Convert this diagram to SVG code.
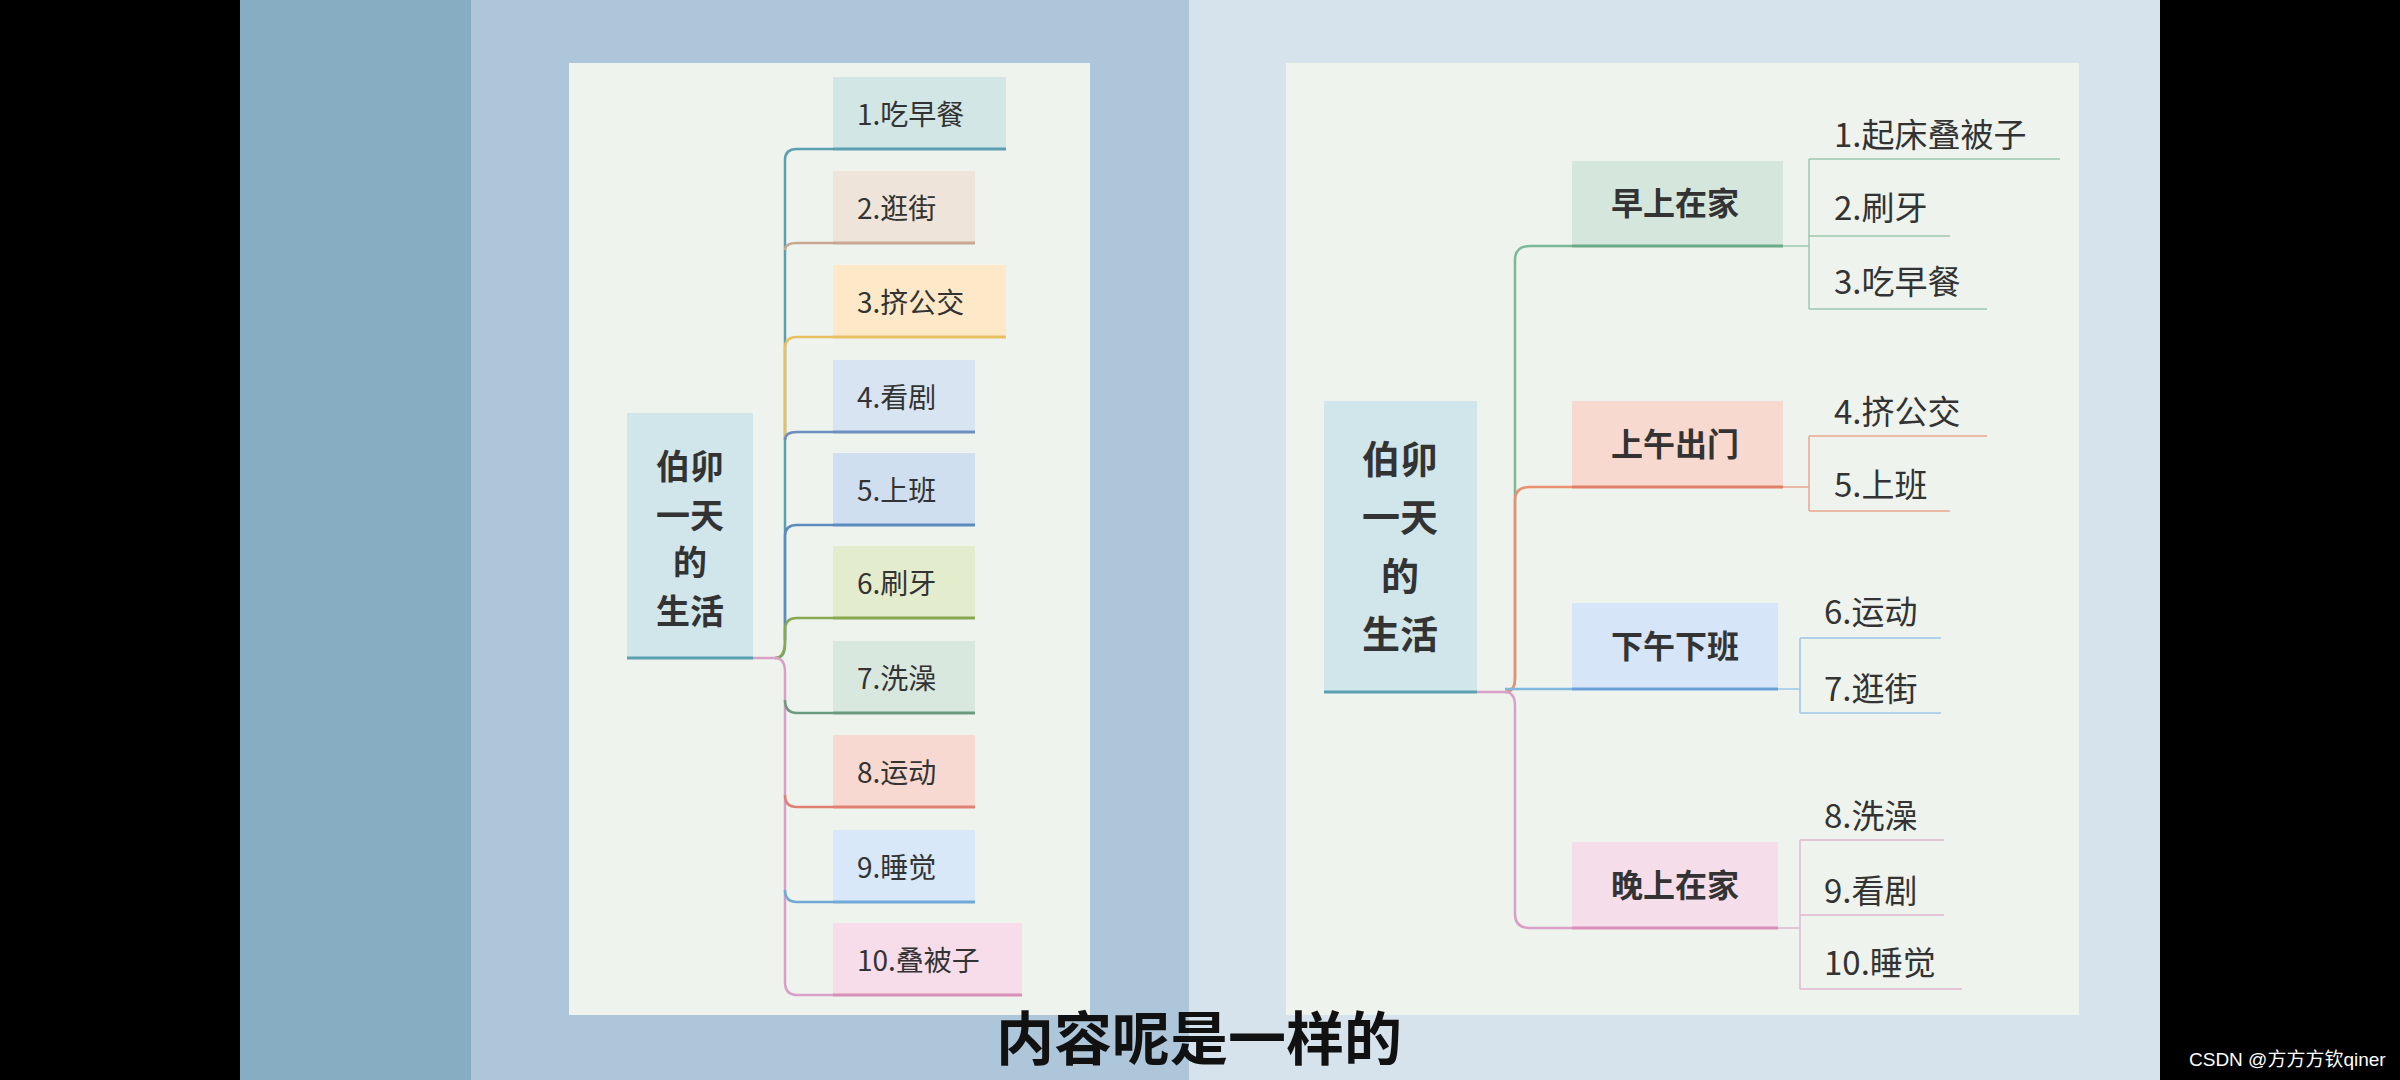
<svg xmlns="http://www.w3.org/2000/svg" width="2400" height="1080" viewBox="0 0 2400 1080">
<style>
.t{font-family:"Noto Sans CJK SC","Liberation Sans",sans-serif;fill:#333}
.c{font-size:28px}
.r{font-size:34px;font-weight:bold;text-anchor:middle}
.r2{font-size:38px;font-weight:bold;text-anchor:middle}
.k{font-size:32px;font-weight:bold;text-anchor:middle}
.l{font-size:33px}
.ln{fill:none;stroke-width:2.5}
</style>
<rect width="2400" height="1080" fill="#000"/>
<rect x="240" y="0" width="231" height="1080" fill="#87adc3"/>
<rect x="471" y="0" width="718" height="1080" fill="#adc6da"/>
<rect x="1189" y="0" width="971" height="1080" fill="#d6e3ec"/>
<rect x="569" y="63" width="521" height="952" fill="#eef3ee"/>
<rect x="1286" y="63" width="793" height="952" fill="#eef3ee"/>

<g id="connectors-left">
<path class="ln" stroke="#d8a0c8" d="M753 658 H775"/>
<path class="ln" stroke="#5aa0b0" d="M775 658 Q785 658 785 645 V160 Q785 149 797 149 H833"/>
<path class="ln" stroke="#c8a890" d="M785 250 Q785 243 797 243 H833"/>
<path class="ln" stroke="#e8c060" d="M785 440 V348 Q785 337 797 337 H833"/>
<path class="ln" stroke="#6d8fc0" d="M785 440 Q785 432 797 432 H833"/>
<path class="ln" stroke="#5b8cbf" d="M785 640 V536 Q785 525 797 525 H833"/>
<path class="ln" stroke="#88a850" d="M775 658 Q785 658 785 640 V630 Q785 618 797 618 H833"/>
<path class="ln" stroke="#d8a0c8" d="M775 658 Q785 658 785 672 V982 Q785 995 797 995 H833"/>
<path class="ln" stroke="#6a9a80" d="M785 700 Q785 713 797 713 H833"/>
<path class="ln" stroke="#e08070" d="M785 795 Q785 807 797 807 H833"/>
<path class="ln" stroke="#70a8d8" d="M785 890 Q785 902 797 902 H833"/>
</g>

<g id="root-left">
<rect x="627" y="413" width="126" height="245" fill="#d0e6ea"/>
<line x1="627" y1="658" x2="753" y2="658" stroke="#5aa0b0" stroke-width="3"/>
<text class="t r" x="690" y="479">伯卯</text>
<text class="t r" x="690" y="528">一天</text>
<text class="t r" x="690" y="575">的</text>
<text class="t r" x="690" y="624">生活</text>
</g>
<g id="n1"><rect x="833" y="77" width="173" height="72" fill="#d2e6e6"/><line x1="833" y1="149" x2="1006" y2="149" stroke="#5aa0b0" stroke-width="3"/><text class="t c" x="857" y="125">1.吃早餐</text></g>
<g id="n2"><rect x="833" y="171" width="142" height="72" fill="#efe4da"/><line x1="833" y1="243" x2="975" y2="243" stroke="#c8a890" stroke-width="3"/><text class="t c" x="857" y="219">2.逛街</text></g>
<g id="n3"><rect x="833" y="265" width="173" height="72" fill="#fde9c8"/><line x1="833" y1="337" x2="1006" y2="337" stroke="#e8c060" stroke-width="3"/><text class="t c" x="857" y="313">3.挤公交</text></g>
<g id="n4"><rect x="833" y="360" width="142" height="72" fill="#d8e4f2"/><line x1="833" y1="432" x2="975" y2="432" stroke="#6d8fc0" stroke-width="3"/><text class="t c" x="857" y="408">4.看剧</text></g>
<g id="n5"><rect x="833" y="453" width="142" height="72" fill="#d0dff0"/><line x1="833" y1="525" x2="975" y2="525" stroke="#5b8cbf" stroke-width="3"/><text class="t c" x="857" y="501">5.上班</text></g>
<g id="n6"><rect x="833" y="546" width="142" height="72" fill="#e3eccd"/><line x1="833" y1="618" x2="975" y2="618" stroke="#88a850" stroke-width="3"/><text class="t c" x="857" y="594">6.刷牙</text></g>
<g id="n7"><rect x="833" y="641" width="142" height="72" fill="#d9e8de"/><line x1="833" y1="713" x2="975" y2="713" stroke="#6a9a80" stroke-width="3"/><text class="t c" x="857" y="689">7.洗澡</text></g>
<g id="n8"><rect x="833" y="735" width="142" height="72" fill="#f7d9d2"/><line x1="833" y1="807" x2="975" y2="807" stroke="#e08070" stroke-width="3"/><text class="t c" x="857" y="783">8.运动</text></g>
<g id="n9"><rect x="833" y="830" width="142" height="72" fill="#d8e8f8"/><line x1="833" y1="902" x2="975" y2="902" stroke="#70a8d8" stroke-width="3"/><text class="t c" x="857" y="878">9.睡觉</text></g>
<g id="n10"><rect x="833" y="923" width="189" height="72" fill="#f7dcea"/><line x1="833" y1="995" x2="1022" y2="995" stroke="#d890b8" stroke-width="3"/><text class="t c" x="857" y="971">10.叠被子</text></g>

<g id="connectors-right">
<path class="ln" stroke="#d8a0c8" d="M1477 692 H1505"/>
<path class="ln" stroke="#7ab898" d="M1505 692 Q1515 692 1515 678 V260 Q1515 246 1530 246 H1572"/>
<path class="ln" stroke="#e89070" d="M1505 692 Q1515 692 1515 678 V500 Q1515 487 1530 487 H1572"/>
<path class="ln" stroke="#80b8e0" d="M1505 689 H1572"/>
<path class="ln" stroke="#d8a0c8" d="M1505 692 Q1515 692 1515 706 V914 Q1515 928 1530 928 H1572"/>
<g stroke-width="1.5" fill="none">
<path stroke="#9cc8b0" d="M1783 246 H1809 M1809 159 V309 M1809 159 H2060 M1809 236 H1950 M1809 309 H1987"/>
<path stroke="#eaa890" d="M1783 487 H1809 M1809 436 V511 M1809 436 H1987 M1809 511 H1950"/>
<path stroke="#9cc8e8" d="M1778 689 H1800 M1800 638 V713 M1800 638 H1941 M1800 713 H1941"/>
<path stroke="#e0b8d0" d="M1778 928 H1800 M1800 840 V989 M1800 840 H1944 M1800 915 H1944 M1800 989 H1962"/>
</g>
</g>

<g id="root-right">
<rect x="1324" y="401" width="153" height="291" fill="#d0e6ea"/>
<line x1="1324" y1="692" x2="1477" y2="692" stroke="#5aa0b0" stroke-width="3"/>
<text class="t r2" x="1400" y="473">伯卯</text>
<text class="t r2" x="1400" y="531">一天</text>
<text class="t r2" x="1400" y="590">的</text>
<text class="t r2" x="1400" y="648">生活</text>
</g>
<g id="c1"><rect x="1572" y="161" width="211" height="85" fill="#d5e6dc"/><line x1="1572" y1="246" x2="1783" y2="246" stroke="#6aaa88" stroke-width="3"/><text class="t k" x="1675" y="215">早上在家</text></g>
<g id="c2"><rect x="1572" y="401" width="211" height="86" fill="#f7d9cf"/><line x1="1572" y1="487" x2="1783" y2="487" stroke="#e0806a" stroke-width="3"/><text class="t k" x="1675" y="456">上午出门</text></g>
<g id="c3"><rect x="1572" y="603" width="206" height="86" fill="#d6e6f8"/><line x1="1572" y1="689" x2="1778" y2="689" stroke="#6aa0d8" stroke-width="3"/><text class="t k" x="1675" y="658">下午下班</text></g>
<g id="c4"><rect x="1572" y="842" width="206" height="86" fill="#f5dde9"/><line x1="1572" y1="928" x2="1778" y2="928" stroke="#d890b8" stroke-width="3"/><text class="t k" x="1675" y="897">晚上在家</text></g>

<g id="leaves">
<text class="t l" x="1834" y="147">1.起床叠被子</text>
<text class="t l" x="1834" y="220">2.刷牙</text>
<text class="t l" x="1834" y="294">3.吃早餐</text>
<text class="t l" x="1834" y="424">4.挤公交</text>
<text class="t l" x="1834" y="497">5.上班</text>
<text class="t l" x="1824" y="624">6.运动</text>
<text class="t l" x="1824" y="701">7.逛街</text>
<text class="t l" x="1824" y="828">8.洗澡</text>
<text class="t l" x="1824" y="903">9.看剧</text>
<text class="t l" x="1824" y="975">10.睡觉</text>
</g>

<text x="1199" y="1060" text-anchor="middle" font-family="Noto Sans CJK SC,sans-serif" font-size="58" font-weight="bold" fill="#111">内容呢是一样的</text>
<text x="2189" y="1066" font-family="Liberation Sans,Noto Sans CJK SC,sans-serif" font-size="19" fill="#fff">CSDN @方方方钦qiner</text>
</svg>
